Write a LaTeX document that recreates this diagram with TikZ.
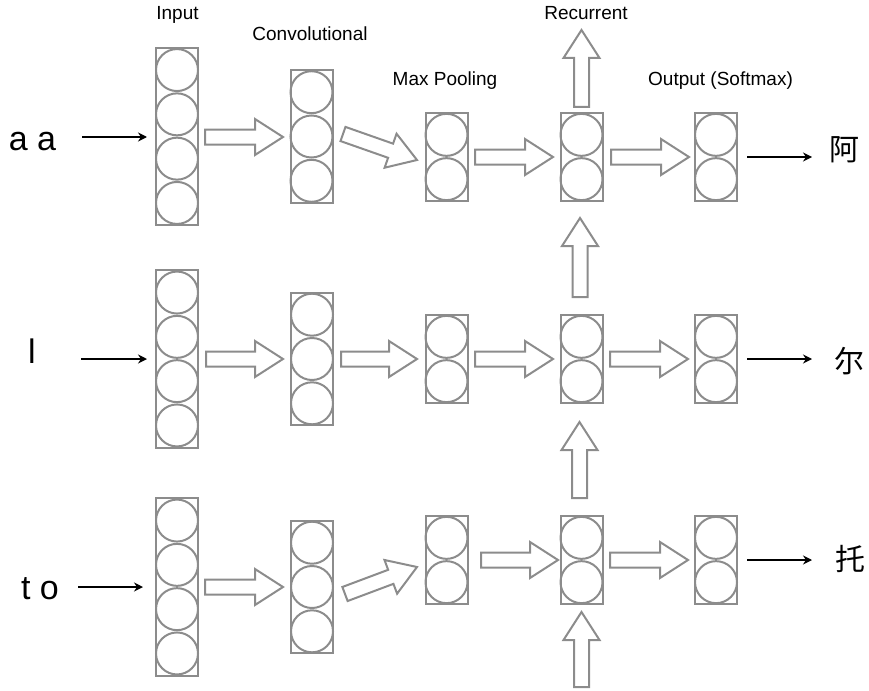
\documentclass[tikz,border=0pt]{standalone}
\usepackage{fontspec}
\setmainfont{Liberation Sans}
\newfontfamily\cjk{Noto Sans CJK SC}
\usetikzlibrary{calc,arrows.meta}
\definecolor{gc}{RGB}{140,140,140}
\tikzset{
 layerbox/.style={draw=gc, line width=2pt, minimum width=42pt, inner sep=0pt},
 cell/.style={draw=gc, line width=2pt, circle, minimum size=42pt, inner sep=0pt},
 fat/.style={draw=gc, line width=2pt, line join=miter},
 lbl/.style={font=\fontsize{19}{21}\selectfont, anchor=base, inner sep=0pt},
 big/.style={font=\fontsize{34}{36}\selectfont, anchor=base, inner sep=0pt},
 zh/.style={font=\cjk\fontsize{30}{32}\selectfont, inner sep=0pt},
 blk/.style={line width=2pt, -{Stealth[length=9pt,width=9pt]}}
}
\newcommand\layer[4]{%
 \node[layerbox, minimum height={#4*44.3pt}] (#1) at (#2,#3) {};
 \foreach \k in {1,...,#4} {
   \node[cell] (#1-\k) at ($(#2,#3)+(0,{(\k-(#4+1)/2)*44.3})$) {};
 }
}
\newcommand\fatarrow[3]{%
 \coordinate (#3) at ($(#2)!28pt!(#1)$);
 \draw[fat] ($(#1)!7.5pt!90:(#2)$) -- ($(#3)!7.5pt!90:(#2)$) -- ($(#3)!18pt!90:(#2)$) -- (#2) -- ($(#3)!18pt!-90:(#2)$) -- ($(#3)!7.5pt!-90:(#2)$) -- ($(#1)!7.5pt!-90:(#2)$) -- cycle;
}
\begin{document}
\begin{tikzpicture}[x=1pt,y=-1pt]
\useasboundingbox (0,0) rectangle (869,690);
% labels
\node[lbl] (tIn) at (177.5,19.5) {Input};
\node[lbl] (tConv) at (310,41) {Convolutional};
\node[lbl] (tMax) at (445,85.5) {Max Pooling};
\node[lbl] (tRec) at (586,20) {Recurrent};
\node[lbl] (tOut) at (720.5,85.5) {Output (Softmax)};
% layers row 1
\layer{in1}{177}{136.5}{4}
\layer{cv1}{311.5}{136.5}{3}
\layer{mp1}{446.5}{157}{2}
\layer{rc1}{581.5}{157}{2}
\layer{ou1}{716}{157}{2}
% row 2
\layer{in2}{177}{359}{4}
\layer{cv2}{312}{359}{3}
\layer{mp2}{446.5}{359}{2}
\layer{rc2}{581.5}{359}{2}
\layer{ou2}{716}{359}{2}
% row 3
\layer{in3}{177}{587}{4}
\layer{cv3}{312}{587}{3}
\layer{mp3}{446.5}{560}{2}
\layer{rc3}{581.5}{560}{2}
\layer{ou3}{716}{560}{2}
% fat arrow endpoints
\coordinate (a11) at (205,137);   \coordinate (b11) at (283,137);
\coordinate (a12) at (343,134);   \coordinate (b12) at (417,160);
\coordinate (a13) at (475,157);   \coordinate (b13) at (553,157);
\coordinate (a14) at (611,157);   \coordinate (b14) at (689,157);
\coordinate (a21) at (206,359);   \coordinate (b21) at (283,359);
\coordinate (a22) at (341,359);   \coordinate (b22) at (417,359);
\coordinate (a23) at (475,359);   \coordinate (b23) at (553,359);
\coordinate (a24) at (610,359);   \coordinate (b24) at (688,359);
\coordinate (a31) at (205,587);   \coordinate (b31) at (283,587);
\coordinate (a32) at (345,594);   \coordinate (b32) at (417,567);
\coordinate (a33) at (481,560);   \coordinate (b33) at (558,560);
\coordinate (a34) at (610,560);   \coordinate (b34) at (688,560);
\coordinate (v1a) at (581.5,107); \coordinate (v1b) at (581.5,30);
\coordinate (v2a) at (580,297);   \coordinate (v2b) at (580,218);
\coordinate (v3a) at (579.5,498); \coordinate (v3b) at (579.5,422);
\coordinate (v4a) at (581.5,687); \coordinate (v4b) at (581.5,612);
\fatarrow{a11}{b11}{h11}
\fatarrow{a12}{b12}{h12}
\fatarrow{a13}{b13}{h13}
\fatarrow{a14}{b14}{h14}
\fatarrow{a21}{b21}{h21}
\fatarrow{a22}{b22}{h22}
\fatarrow{a23}{b23}{h23}
\fatarrow{a24}{b24}{h24}
\fatarrow{a31}{b31}{h31}
\fatarrow{a32}{b32}{h32}
\fatarrow{a33}{b33}{h33}
\fatarrow{a34}{b34}{h34}
\fatarrow{v1a}{v1b}{hv1}
\fatarrow{v2a}{v2b}{hv2}
\fatarrow{v3a}{v3b}{hv3}
\fatarrow{v4a}{v4b}{hv4}
% inputs
\node[big] (x1) at (32.5,150) {a a};
\node[big] (x2) at (32,363) {l};
\node[big] (x3) at (40,599) {t o};
\coordinate (p1) at (82,137);  \coordinate (q1) at (147,137);
\coordinate (p2) at (81,359);  \coordinate (q2) at (147,359);
\coordinate (p3) at (78,587);  \coordinate (q3) at (143,587);
\draw[blk] (p1) -- (q1);
\draw[blk] (p2) -- (q2);
\draw[blk] (p3) -- (q3);
% outputs
\coordinate (r1) at (747,157);  \coordinate (s1) at (812,157);
\coordinate (r2) at (747,359);  \coordinate (s2) at (812,359);
\coordinate (r3) at (747,560);  \coordinate (s3) at (812,560);
\draw[blk] (r1) -- (s1);
\draw[blk] (r2) -- (s2);
\draw[blk] (r3) -- (s3);
\node[zh] (y1) at (844,150) {阿};
\node[zh] (y2) at (849,361) {尔};
\node[zh] (y3) at (850,559) {托};
\end{tikzpicture}
\end{document}
